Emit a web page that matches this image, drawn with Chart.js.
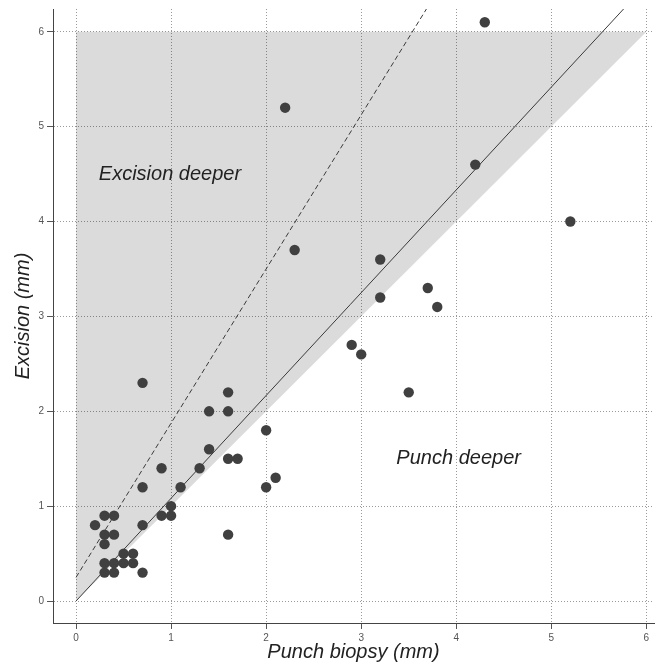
<!DOCTYPE html>
<html>
<head>
<meta charset="utf-8">
<script src="https://cdn.jsdelivr.net/npm/chart.js@4"></script>
<style>
  html, body { margin: 0; padding: 0; background: #ffffff; }
  #wrap { width: 665px; height: 664px; }
</style>
</head>
<body>
<div id="wrap"><canvas id="c" width="665" height="664"></canvas></div>
<script>
// ---- data ----
const punchBiopsy = [4.3, 2.2, 4.2, 5.2, 2.3, 3.2, 3.7, 3.2, 3.8, 2.9, 3.0, 3.5,
                     0.7, 1.6, 1.4, 1.6, 2.0, 1.4, 1.6, 1.7, 0.9, 1.3, 2.1, 0.7,
                     1.1, 2.0, 1.0, 0.9, 1.0, 1.6, 0.7, 0.2, 0.3, 0.4, 0.3, 0.4,
                     0.3, 0.5, 0.6, 0.3, 0.4, 0.5, 0.6, 0.3, 0.4, 0.7];
const excision    = [6.1, 5.2, 4.6, 4.0, 3.7, 3.6, 3.3, 3.2, 3.1, 2.7, 2.6, 2.2,
                     2.3, 2.2, 2.0, 2.0, 1.8, 1.6, 1.5, 1.5, 1.4, 1.4, 1.3, 1.2,
                     1.2, 1.2, 1.0, 0.9, 0.9, 0.7, 0.8, 0.8, 0.9, 0.9, 0.7, 0.7,
                     0.6, 0.5, 0.5, 0.4, 0.4, 0.4, 0.4, 0.3, 0.3, 0.3];
const xTicks = [0, 1, 2, 3, 4, 5, 6];
const yTicks = [0, 1, 2, 3, 4, 5, 6];
const equalityLineX = [0, 6];        // y = x, bounds the shaded "excision deeper" region
const equalityLineY = [0, 6];
const shadeTop = 6;
const fitLineX = [0, 6];             // solid line
const fitLineY = [0, 6.5];
const limitLineX = [0, 6];           // dashed line
const limitLineY = [0.25, 10];
const regionLabels = ['Excision deeper', 'Punch deeper'];

const toPts = (xs, ys) => xs.map((v, i) => ({ x: v, y: ys[i] }));
const FONT = '"Liberation Sans", Arial, Helvetica, sans-serif';

const regionLabelPlugin = {
  id: 'regionLabels',
  afterDatasetsDraw(chart, args, opts) {
    const { ctx, scales: { x, y } } = chart;
    ctx.save();
    ctx.font = 'italic 20px ' + FONT;
    ctx.fillStyle = '#222222';
    ctx.textAlign = 'left';
    ctx.textBaseline = 'alphabetic';
    opts.items.forEach(it => {
      ctx.fillText(it.text, x.getPixelForValue(it.x), y.getPixelForValue(it.y));
    });
    ctx.restore();
  }
};

new Chart(document.getElementById('c'), {
  type: 'scatter',
  data: {
    datasets: [
      {
        label: 'Measurements',
        data: toPts(punchBiopsy, excision),
        backgroundColor: '#404040',
        borderWidth: 0,
        pointRadius: 5.2,
        pointHoverRadius: 5.2,
        order: 0
      },
      {
        type: 'line',
        label: 'Fit',
        data: toPts(fitLineX, fitLineY),
        borderColor: '#3a3a3a',
        borderWidth: 1,
        pointRadius: 0,
        fill: false,
        clip: 0,
        order: 1
      },
      {
        type: 'line',
        label: 'Limit',
        data: toPts(limitLineX, limitLineY),
        borderColor: '#3a3a3a',
        borderWidth: 1,
        borderDash: [5, 3],
        pointRadius: 0,
        fill: false,
        clip: 0,
        order: 2
      },
      {
        type: 'line',
        label: 'Excision deeper region',
        data: toPts(equalityLineX, equalityLineY),
        borderWidth: 0,
        borderColor: 'rgba(0,0,0,0)',
        backgroundColor: 'rgba(0,0,8,0.14)',
        pointRadius: 0,
        fill: { value: shadeTop },
        clip: 0,
        order: 3
      }
    ]
  },
  options: {
    responsive: false,
    animation: false,
    devicePixelRatio: 1,
    layout: { padding: { top: 7, right: 11, left: 0, bottom: 0 } },
    plugins: {
      legend: { display: false },
      tooltip: { enabled: false },
      regionLabels: {
        items: [
          { text: regionLabels[0], x: 0.24, y: 4.44 },
          { text: regionLabels[1], x: 3.37, y: 1.44 }
        ]
      }
    },
    scales: {
      x: {
        type: 'linear',
        min: -0.242,
        max: 6.08,
        afterBuildTicks: s => { s.ticks = xTicks.map(v => ({ value: v })); },
        afterFit: s => { s.height = 41; },
        grid: {
          color: '#9a9a9a',
          lineWidth: 1,
          drawTicks: true,
          tickLength: 6,
          tickColor: '#555555',
          tickBorderDash: [],
          tickWidth: 1
        },
        border: { display: true, color: '#444444', width: 1, dash: [1, 2] },
        ticks: {
          font: { family: FONT, size: 10 },
          color: '#555555',
          padding: 3,
          maxRotation: 0,
          autoSkip: false,
          callback: v => String(v)
        },
        title: {
          display: true,
          text: 'Punch biopsy (mm)',
          font: { family: FONT, size: 20, style: 'italic' },
          color: '#222222',
          padding: { top: 0, bottom: 0 }
        }
      },
      y: {
        type: 'linear',
        min: -0.231,
        max: 6.24,
        afterBuildTicks: s => { s.ticks = yTicks.map(v => ({ value: v })); },
        afterFit: s => { s.width = 53; },
        grid: {
          color: '#9a9a9a',
          lineWidth: 1,
          drawTicks: true,
          tickLength: 6,
          tickColor: '#555555',
          tickBorderDash: [],
          tickWidth: 1
        },
        border: { display: true, color: '#444444', width: 1, dash: [1, 2] },
        ticks: {
          font: { family: FONT, size: 10 },
          color: '#555555',
          padding: 3,
          autoSkip: false,
          callback: v => String(v)
        },
        title: {
          display: true,
          text: 'Excision (mm)',
          font: { family: FONT, size: 20, style: 'italic' },
          color: '#222222',
          padding: { top: 11, bottom: 0 }
        }
      }
    }
  },
  plugins: [regionLabelPlugin]
});
</script>
</body>
</html>
